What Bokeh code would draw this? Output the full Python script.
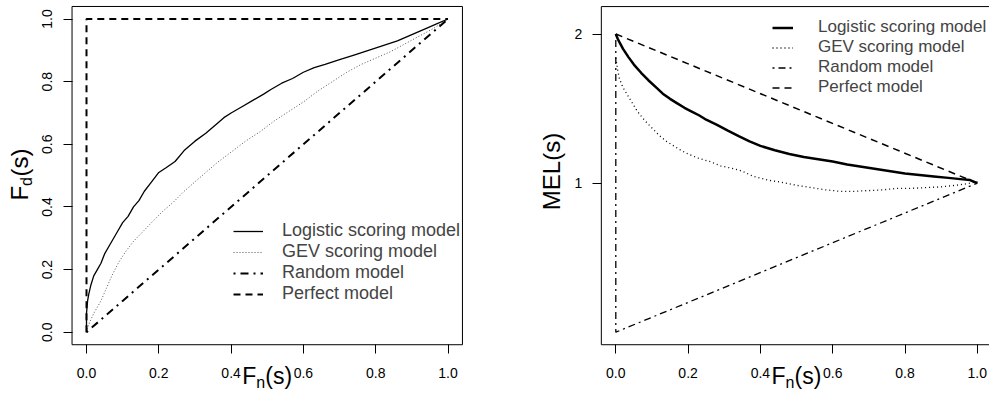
import math
from bokeh.plotting import figure
from bokeh.models import Range1d, FixedTicker, Label, Legend, LegendItem, PrintfTickFormatter
from bokeh.layouts import row
from bokeh.embed import file_html
from bokeh.resources import INLINE

# ---------------- data ----------------
x_ticks = [0.0, 0.2, 0.4, 0.6, 0.8, 1.0]
fd_ticks = [0.0, 0.2, 0.4, 0.6, 0.8, 1.0]
mel_ticks = [1, 2]
legend_labels = ["Logistic scoring model", "GEV scoring model", "Random model", "Perfect model"]
xlim = (0.0, 1.0)
ylim_roc = (0.0, 1.0)
ylim_mel = (0.0, 2.1)

roc_logit_x = [0.0, 0.0, 0.003, 0.006, 0.012, 0.02, 0.03, 0.04, 0.05, 0.065, 0.085, 0.10, 0.115, 0.13,
               0.145, 0.16, 0.18, 0.20, 0.22, 0.245, 0.27, 0.30, 0.33, 0.36, 0.38, 0.40, 0.43, 0.46,
               0.49, 0.51, 0.54, 0.57, 0.60, 0.63, 0.66, 0.70, 0.74, 0.78, 0.82, 0.86, 0.90, 0.94, 0.97, 1.0]
roc_logit_y = [0.0, 0.06, 0.10, 0.12, 0.15, 0.18, 0.20, 0.22, 0.25, 0.28, 0.32, 0.35, 0.37, 0.40,
               0.42, 0.45, 0.48, 0.51, 0.525, 0.545, 0.58, 0.61, 0.635, 0.665, 0.685, 0.70, 0.72, 0.74,
               0.76, 0.775, 0.795, 0.81, 0.83, 0.845, 0.855, 0.87, 0.885, 0.90, 0.915, 0.93, 0.95, 0.97, 0.985, 1.0]

roc_gev_x = [0.0, 0.005, 0.01, 0.02, 0.03, 0.04, 0.055, 0.07, 0.09, 0.11, 0.13, 0.155, 0.18, 0.21, 0.24,
             0.27, 0.30, 0.33, 0.36, 0.40, 0.44, 0.48, 0.52, 0.56, 0.60, 0.64, 0.68, 0.72, 0.76, 0.80,
             0.84, 0.88, 0.92, 0.96, 1.0]
roc_gev_y = [0.0, 0.02, 0.035, 0.06, 0.08, 0.10, 0.14, 0.18, 0.225, 0.26, 0.29, 0.32, 0.35, 0.385, 0.415,
             0.45, 0.48, 0.51, 0.54, 0.575, 0.61, 0.64, 0.675, 0.705, 0.735, 0.77, 0.80, 0.83, 0.855, 0.875,
             0.895, 0.92, 0.945, 0.97, 1.0]

roc_random_x = [0.0, 1.0]
roc_random_y = [0.0, 1.0]
roc_perfect_x = [0.0, 0.0, 1.0]
roc_perfect_y = [0.0, 1.0, 1.0]

mel_logit_x = [0.0, 0.005, 0.01, 0.02, 0.035, 0.05, 0.07, 0.09, 0.11, 0.13, 0.15, 0.17, 0.19, 0.21, 0.23,
               0.25, 0.28, 0.31, 0.34, 0.37, 0.40, 0.44, 0.48, 0.52, 0.56, 0.60, 0.64, 0.68, 0.72, 0.76,
               0.80, 0.84, 0.88, 0.92, 0.96, 0.98, 1.0]
mel_logit_y = [2.0, 1.97, 1.945, 1.90, 1.845, 1.795, 1.74, 1.69, 1.645, 1.60, 1.565, 1.535, 1.505, 1.48, 1.455,
               1.425, 1.39, 1.352, 1.315, 1.28, 1.25, 1.22, 1.195, 1.175, 1.16, 1.145, 1.125, 1.11, 1.095, 1.08,
               1.065, 1.055, 1.045, 1.035, 1.025, 1.02, 1.0]

mel_gev_x = [0.0, 0.005, 0.01, 0.02, 0.03, 0.045, 0.06, 0.08, 0.10, 0.12, 0.14, 0.16, 0.18, 0.20, 0.23,
             0.26, 0.29, 0.32, 0.35, 0.38, 0.42, 0.46, 0.50, 0.54, 0.58, 0.62, 0.66, 0.70, 0.74, 0.78,
             0.82, 0.86, 0.90, 0.94, 0.97, 1.0]
mel_gev_y = [1.84, 1.76, 1.70, 1.64, 1.60, 1.54, 1.48, 1.42, 1.37, 1.32, 1.28, 1.25, 1.22, 1.195, 1.165,
             1.145, 1.115, 1.10, 1.08, 1.045, 1.02, 1.005, 0.985, 0.97, 0.955, 0.945, 0.945, 0.95, 0.955, 0.965,
             0.965, 0.97, 0.975, 0.985, 0.995, 1.01]

mel_random_x = [0.0, 0.0, 1.0]
mel_random_y = [2.0, 0.0, 1.0]
mel_perfect_x = [0.0, 1.0]
mel_perfect_y = [2.0, 1.0]

# ---------------- geometry (page pixels) ----------------
FONT = "Liberation Sans"
FIG_H = 394
PAGE_TOP = 0
L_LEFT, L_W = 0, 480
R_LEFT, R_W = 480, 509
X0_L, X0_R = 86.0, 615.3      # page x of x = 0
SX = 361.5                     # px per x unit
Y0 = 331.7                     # page y of y = 0
SY_L = 313.2
SY_R = 149.1
LAB_X = "23px"
LAB_Y = "24px"
SUB = "16px"


def expand(lim):
    d = 0.04 * (lim[1] - lim[0])
    return (lim[0] - d, lim[1] + d)


def make_fig(left, width, x0, sy, ylim, yticks, yfmt, ystand, yvertical):
    xr = ((left - x0) / SX, (left + width - x0) / SX)
    yr = ((Y0 - (PAGE_TOP + FIG_H)) / sy, (Y0 - PAGE_TOP) / sy)
    p = figure(width=width, height=FIG_H, x_range=Range1d(*xr), y_range=Range1d(*yr),
               output_backend="svg", toolbar_location=None,
               min_border_left=0, min_border_right=0, min_border_top=0, min_border_bottom=0)
    p.grid.visible = False
    p.outline_line_color = None
    p.background_fill_color = "white"
    p.border_fill_color = "white"
    bx = expand(xlim)
    by = expand(ylim)
    p.quad(left=[bx[0]], right=[bx[1]], bottom=[by[0]], top=[by[1]],
           fill_color=None, line_color="black", line_width=1)
    for ax in (p.xaxis[0], p.yaxis[0]):
        ax.axis_line_color = None
        ax.major_tick_line_color = "black"
        ax.major_tick_out = 9
        ax.major_tick_in = 0
        ax.minor_tick_line_color = None
        ax.major_label_text_font = FONT
        ax.major_label_text_font_size = "14px"
        ax.major_label_text_color = "black"
    p.xaxis[0].fixed_location = by[0]
    p.yaxis[0].fixed_location = bx[0]
    p.xaxis[0].ticker = FixedTicker(ticks=x_ticks)
    p.xaxis[0].formatter = PrintfTickFormatter(format="%.1f")
    p.xaxis[0].major_label_standoff = 14
    p.yaxis[0].ticker = FixedTicker(ticks=yticks)
    p.yaxis[0].formatter = PrintfTickFormatter(format=yfmt)
    p.yaxis[0].major_label_standoff = ystand
    if yvertical:
        p.yaxis[0].major_label_orientation = "vertical"
    return p, (lambda px: (px - x0) / SX), (lambda py: (Y0 - py) / sy)


def add_text(p, x, y, text, size, **kw):
    p.add_layout(Label(x=x, y=y, text=text, text_font=FONT, text_font_size=size,
                       text_color="black", **kw))


def xlabel(p, x0):
    # expression "F_n(s)" centred under the plot box
    centre = 0.5 * (xlim[0] + xlim[1])
    x = centre
    y = (Y0 - 375) / (SY_L if p is p1 else SY_R)
    add_text(p, x, y, "F", LAB_X, text_align="left", text_baseline="alphabetic", x_offset=-25)
    add_text(p, x, y, "n", SUB, text_align="left", text_baseline="alphabetic", x_offset=-11, y_offset=-7)
    add_text(p, x, y, "(s)", LAB_X, text_align="left", text_baseline="alphabetic", x_offset=-2)


# ---------------- left panel: ROC ----------------
p1, dx1, dy1 = make_fig(L_LEFT, L_W, X0_L, SY_L, ylim_roc, fd_ticks, "%.1f", 11, True)

r1 = p1.line(roc_logit_x, roc_logit_y, line_color="black", line_width=1.3)
r2 = p1.line(roc_gev_x, roc_gev_y, line_color="#555555", line_width=1, line_dash="1 2")
r3 = p1.line(roc_random_x, roc_random_y, line_color="black", line_width=2, line_dash="2 5 8 5")
r4 = p1.line(roc_perfect_x, roc_perfect_y, line_color="black", line_width=2, line_dash="7 5")

leg1 = Legend(items=[LegendItem(label=l, renderers=[r]) for l, r in zip(legend_labels, [r1, r2, r3, r4])],
              location=(233, 90), border_line_color=None, background_fill_alpha=0,
              padding=0, margin=0, spacing=-1, glyph_width=30, glyph_height=20, label_height=20,
              label_standoff=19, label_text_font=FONT, label_text_font_size="18px")
p1.add_layout(leg1)

xlabel(p1, X0_L)
# y label F_d(s)
yx = dx1(19)
yy = dy1(200)
add_text(p1, yx, yy, "F", LAB_Y, angle=math.pi / 2, text_align="left", text_baseline="alphabetic")
add_text(p1, yx, yy, "d", SUB, angle=math.pi / 2, text_align="left", text_baseline="alphabetic",
         y_offset=14.5, x_offset=7)
add_text(p1, yx, yy, "(s)", LAB_Y, angle=math.pi / 2, text_align="left", text_baseline="alphabetic",
         y_offset=24)

# ---------------- right panel: MEL ----------------
p2, dx2, dy2 = make_fig(R_LEFT, R_W, X0_R, SY_R, ylim_mel, mel_ticks, "%d", 10, False)

s1 = p2.line(mel_logit_x, mel_logit_y, line_color="black", line_width=2.5)
s2 = p2.line(mel_gev_x, mel_gev_y, line_color="black", line_width=1.3, line_dash="1 3")
s3 = p2.line(mel_random_x, mel_random_y, line_color="black", line_width=1.3, line_dash="2 4 7 4")
s4 = p2.line(mel_perfect_x, mel_perfect_y, line_color="black", line_width=1.5, line_dash="7 5")

leg2 = Legend(items=[LegendItem(label=l, renderers=[r]) for l, r in zip(legend_labels, [s1, s2, s3, s4])],
              location=(292, 297), border_line_color=None, background_fill_alpha=0,
              padding=0, margin=0, spacing=-1, glyph_width=21, glyph_height=17, label_height=17,
              label_standoff=25, label_text_font=FONT, label_text_font_size="17px")
p2.add_layout(leg2)

xlabel(p2, X0_R)
add_text(p2, dx2(551), dy2(171), "MEL(s)", LAB_Y, angle=math.pi / 2, text_align="center",
         text_baseline="alphabetic")

layout = row(p1, p2)
open("out.html", "w").write(file_html(layout, INLINE))
